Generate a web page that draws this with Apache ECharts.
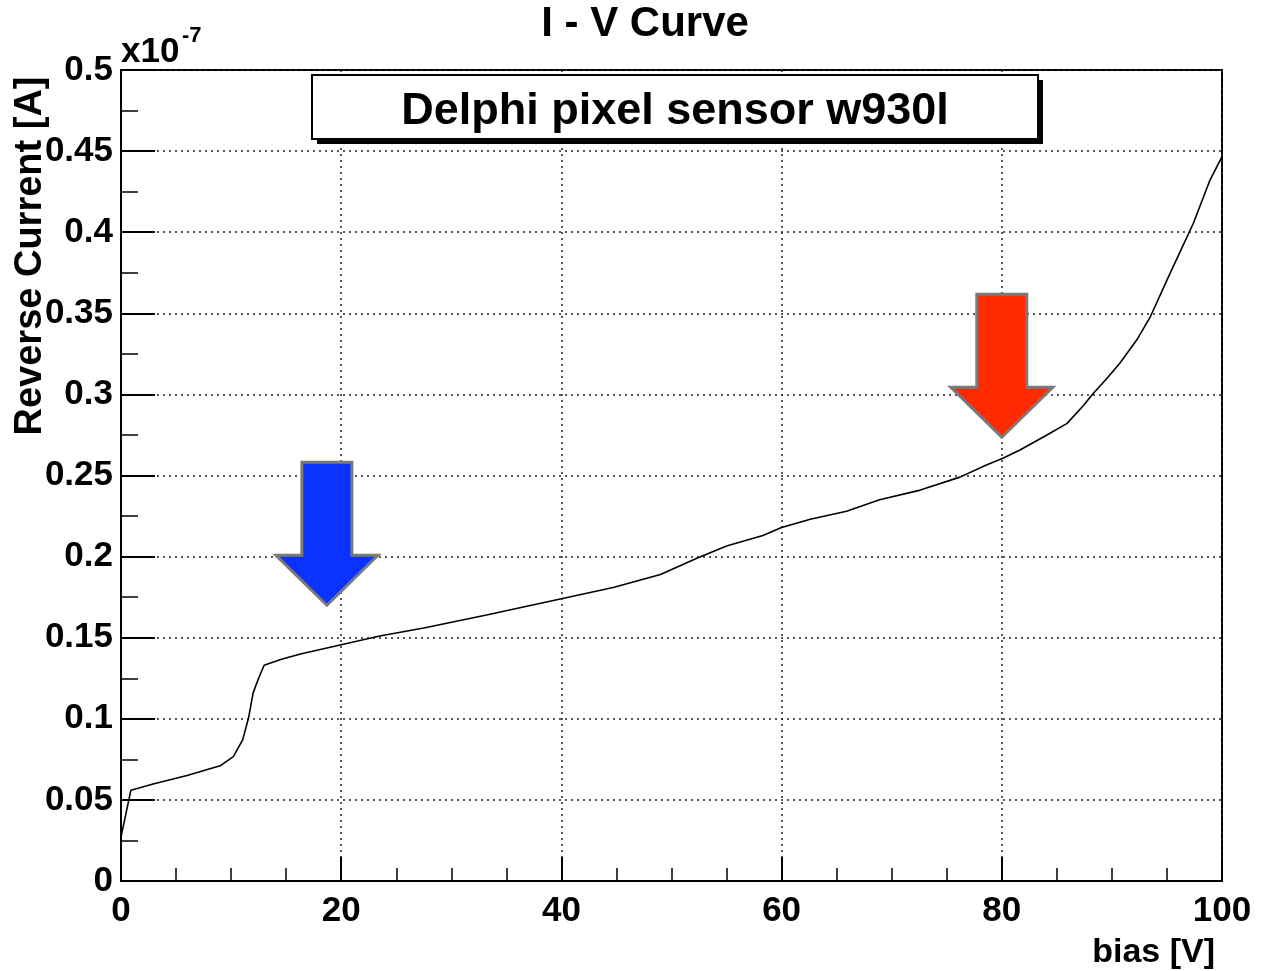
<!DOCTYPE html>
<html>
<head>
<meta charset="utf-8">
<title>I - V Curve</title>
<script src="https://cdn.jsdelivr.net/npm/echarts@6/dist/echarts.min.js"></script>
<style>
  html, body { margin: 0; padding: 0; background: #fff; }
  #chart { width: 1262px; height: 971px; }
</style>
</head>
<body>
<div id="chart"></div>
<script>
// Bias voltage [V] and reverse current [x1e-7 A] of the sensor scan
const biasV = [0, 0.9, 3, 6, 9, 10.2, 11.05, 11.6, 12.0, 12.5, 13.0, 14.5, 16.3, 19.9,
  23.5, 27.5, 33.2, 40.0, 44.7, 49.0, 52.3, 55.0, 58.3, 60.0, 62.6, 65.9, 68.9,
  72.6, 76.2, 78.6, 80.1, 81.65, 84.1, 85.9, 87.4, 88.3, 89.5, 90.7, 92.25, 93.5,
  95.0, 96.2, 97.4, 98.9, 100];
const reverseCurrent = [0.027, 0.056, 0.060, 0.065, 0.071, 0.0767, 0.087, 0.101, 0.116,
  0.125, 0.133, 0.1365, 0.140, 0.1455, 0.151, 0.156, 0.164, 0.174, 0.181, 0.189,
  0.199, 0.2065, 0.213, 0.218, 0.223, 0.228, 0.235, 0.241, 0.249, 0.2565, 0.2606,
  0.2657, 0.275, 0.282, 0.293, 0.3006, 0.3095, 0.319, 0.3335, 0.348,
  0.3705, 0.388, 0.4055, 0.432, 0.4466];

// Arrow markers: tip position in data coordinates
const arrowTipsV = [18.7, 80.0];
const arrowTipsI = [0.170, 0.2736];
const arrowColors = ['#0a33ff', '#ff2a00'];

const legendText = 'Delphi pixel sensor w930l';
const titleText = 'I - V Curve';
const xTitle = 'bias [V]';
const yTitle = 'Reverse Current [A]';

const FONT = '"Liberation Sans", Arial, Helvetica, sans-serif';

const chart = echarts.init(document.getElementById('chart'), null, { renderer: 'canvas' });

const seriesData = biasV.map((v, i) => [v, reverseCurrent[i]]);

const gridLine = { show: true, lineStyle: { color: '#222', width: 1.5, type: [2, 4] } };

chart.setOption({
  animation: false,
  backgroundColor: '#fff',
  grid: {
    left: 121, right: 40, top: 70, bottom: 90,
    show: true, borderColor: '#000', borderWidth: 2, backgroundColor: 'transparent'
  },
  xAxis: {
    type: 'value', min: 0, max: 100, interval: 20,
    axisLine: { show: true, lineStyle: { color: '#000', width: 2 } },
    axisTick: { show: true, inside: true, length: 24, lineStyle: { color: '#000', width: 2 } },
    minorTick: { show: true, splitNumber: 4, length: 13, lineStyle: { color: '#000', width: 1.5 } },
    splitLine: gridLine,
    axisLabel: { fontFamily: FONT, fontWeight: 'bold', fontSize: 35, color: '#000', margin: 13 }
  },
  yAxis: {
    type: 'value', min: 0, max: 0.5, interval: 0.05,
    axisLine: { show: true, lineStyle: { color: '#000', width: 2 } },
    axisTick: { show: true, inside: true, length: 34, lineStyle: { color: '#000', width: 2 } },
    minorTick: { show: true, splitNumber: 2, length: 17, lineStyle: { color: '#000', width: 1.5 } },
    splitLine: gridLine,
    axisLabel: {
      fontFamily: FONT, fontWeight: 'bold', fontSize: 35, color: '#000', margin: 8,
      formatter: v => String(+v.toFixed(2))
    }
  },
  series: [{
    type: 'line',
    data: seriesData,
    showSymbol: false,
    smooth: false,
    lineStyle: { color: '#000', width: 1.6 },
    z: 5
  }]
});

// Build arrow polygons anchored to the data positions
function arrowShape(tip) {
  const [x, y] = tip;
  const hw = 51, sw = 25, head = 50, len = 143;
  return [
    [x, y], [x - hw, y - head], [x - sw, y - head], [x - sw, y - len],
    [x + sw, y - len], [x + sw, y - head], [x + hw, y - head]
  ];
}

const arrows = arrowTipsV.map((v, i) => {
  const tip = chart.convertToPixel({ gridIndex: 0 }, [v, arrowTipsI[i]]);
  return {
    type: 'polygon',
    shape: { points: arrowShape(tip) },
    style: { fill: arrowColors[i], stroke: '#7a7a7a', lineWidth: 3, lineJoin: 'miter' },
    z: 20
  };
});

chart.setOption({
  graphic: [
    // plot title
    {
      type: 'text', x: 645, y: 24, z: 30,
      style: {
        text: titleText, font: 'bold 42px ' + FONT, fill: '#000',
        textAlign: 'center', textVerticalAlign: 'middle'
      }
    },
    // exponent marker on the y axis
    {
      type: 'text', x: 121, y: 70, z: 30,
      style: { text: 'x10', font: 'bold 35px ' + FONT, fill: '#000', textVerticalAlign: 'bottom' }
    },
    {
      type: 'text', x: 182, y: 47, z: 30,
      style: { text: '-7', font: 'bold 22px ' + FONT, fill: '#000', textVerticalAlign: 'bottom' }
    },
    // y-axis title
    {
      type: 'text', x: 31, y: 256, rotation: Math.PI / 2, z: 30,
      style: {
        text: yTitle, font: 'bold 38px ' + FONT, fill: '#000',
        textAlign: 'center', textVerticalAlign: 'middle'
      }
    },
    // x-axis title
    {
      type: 'text', x: 1215, y: 953, z: 30,
      style: {
        text: xTitle, font: 'bold 34px ' + FONT, fill: '#000',
        textAlign: 'right', textVerticalAlign: 'middle'
      }
    },
    // legend box with drop shadow
    {
      type: 'rect', z: 28,
      shape: { x: 317, y: 80, width: 726, height: 64 },
      style: { fill: '#000' }
    },
    {
      type: 'rect', z: 29,
      shape: { x: 312, y: 75, width: 726, height: 64 },
      style: { fill: '#fff', stroke: '#000', lineWidth: 2 }
    },
    {
      type: 'text', x: 675, y: 112, z: 30,
      style: {
        text: legendText, font: 'bold 45px ' + FONT, fill: '#000',
        textAlign: 'center', textVerticalAlign: 'middle'
      }
    }
  ].concat(arrows)
});
</script>
</body>
</html>
